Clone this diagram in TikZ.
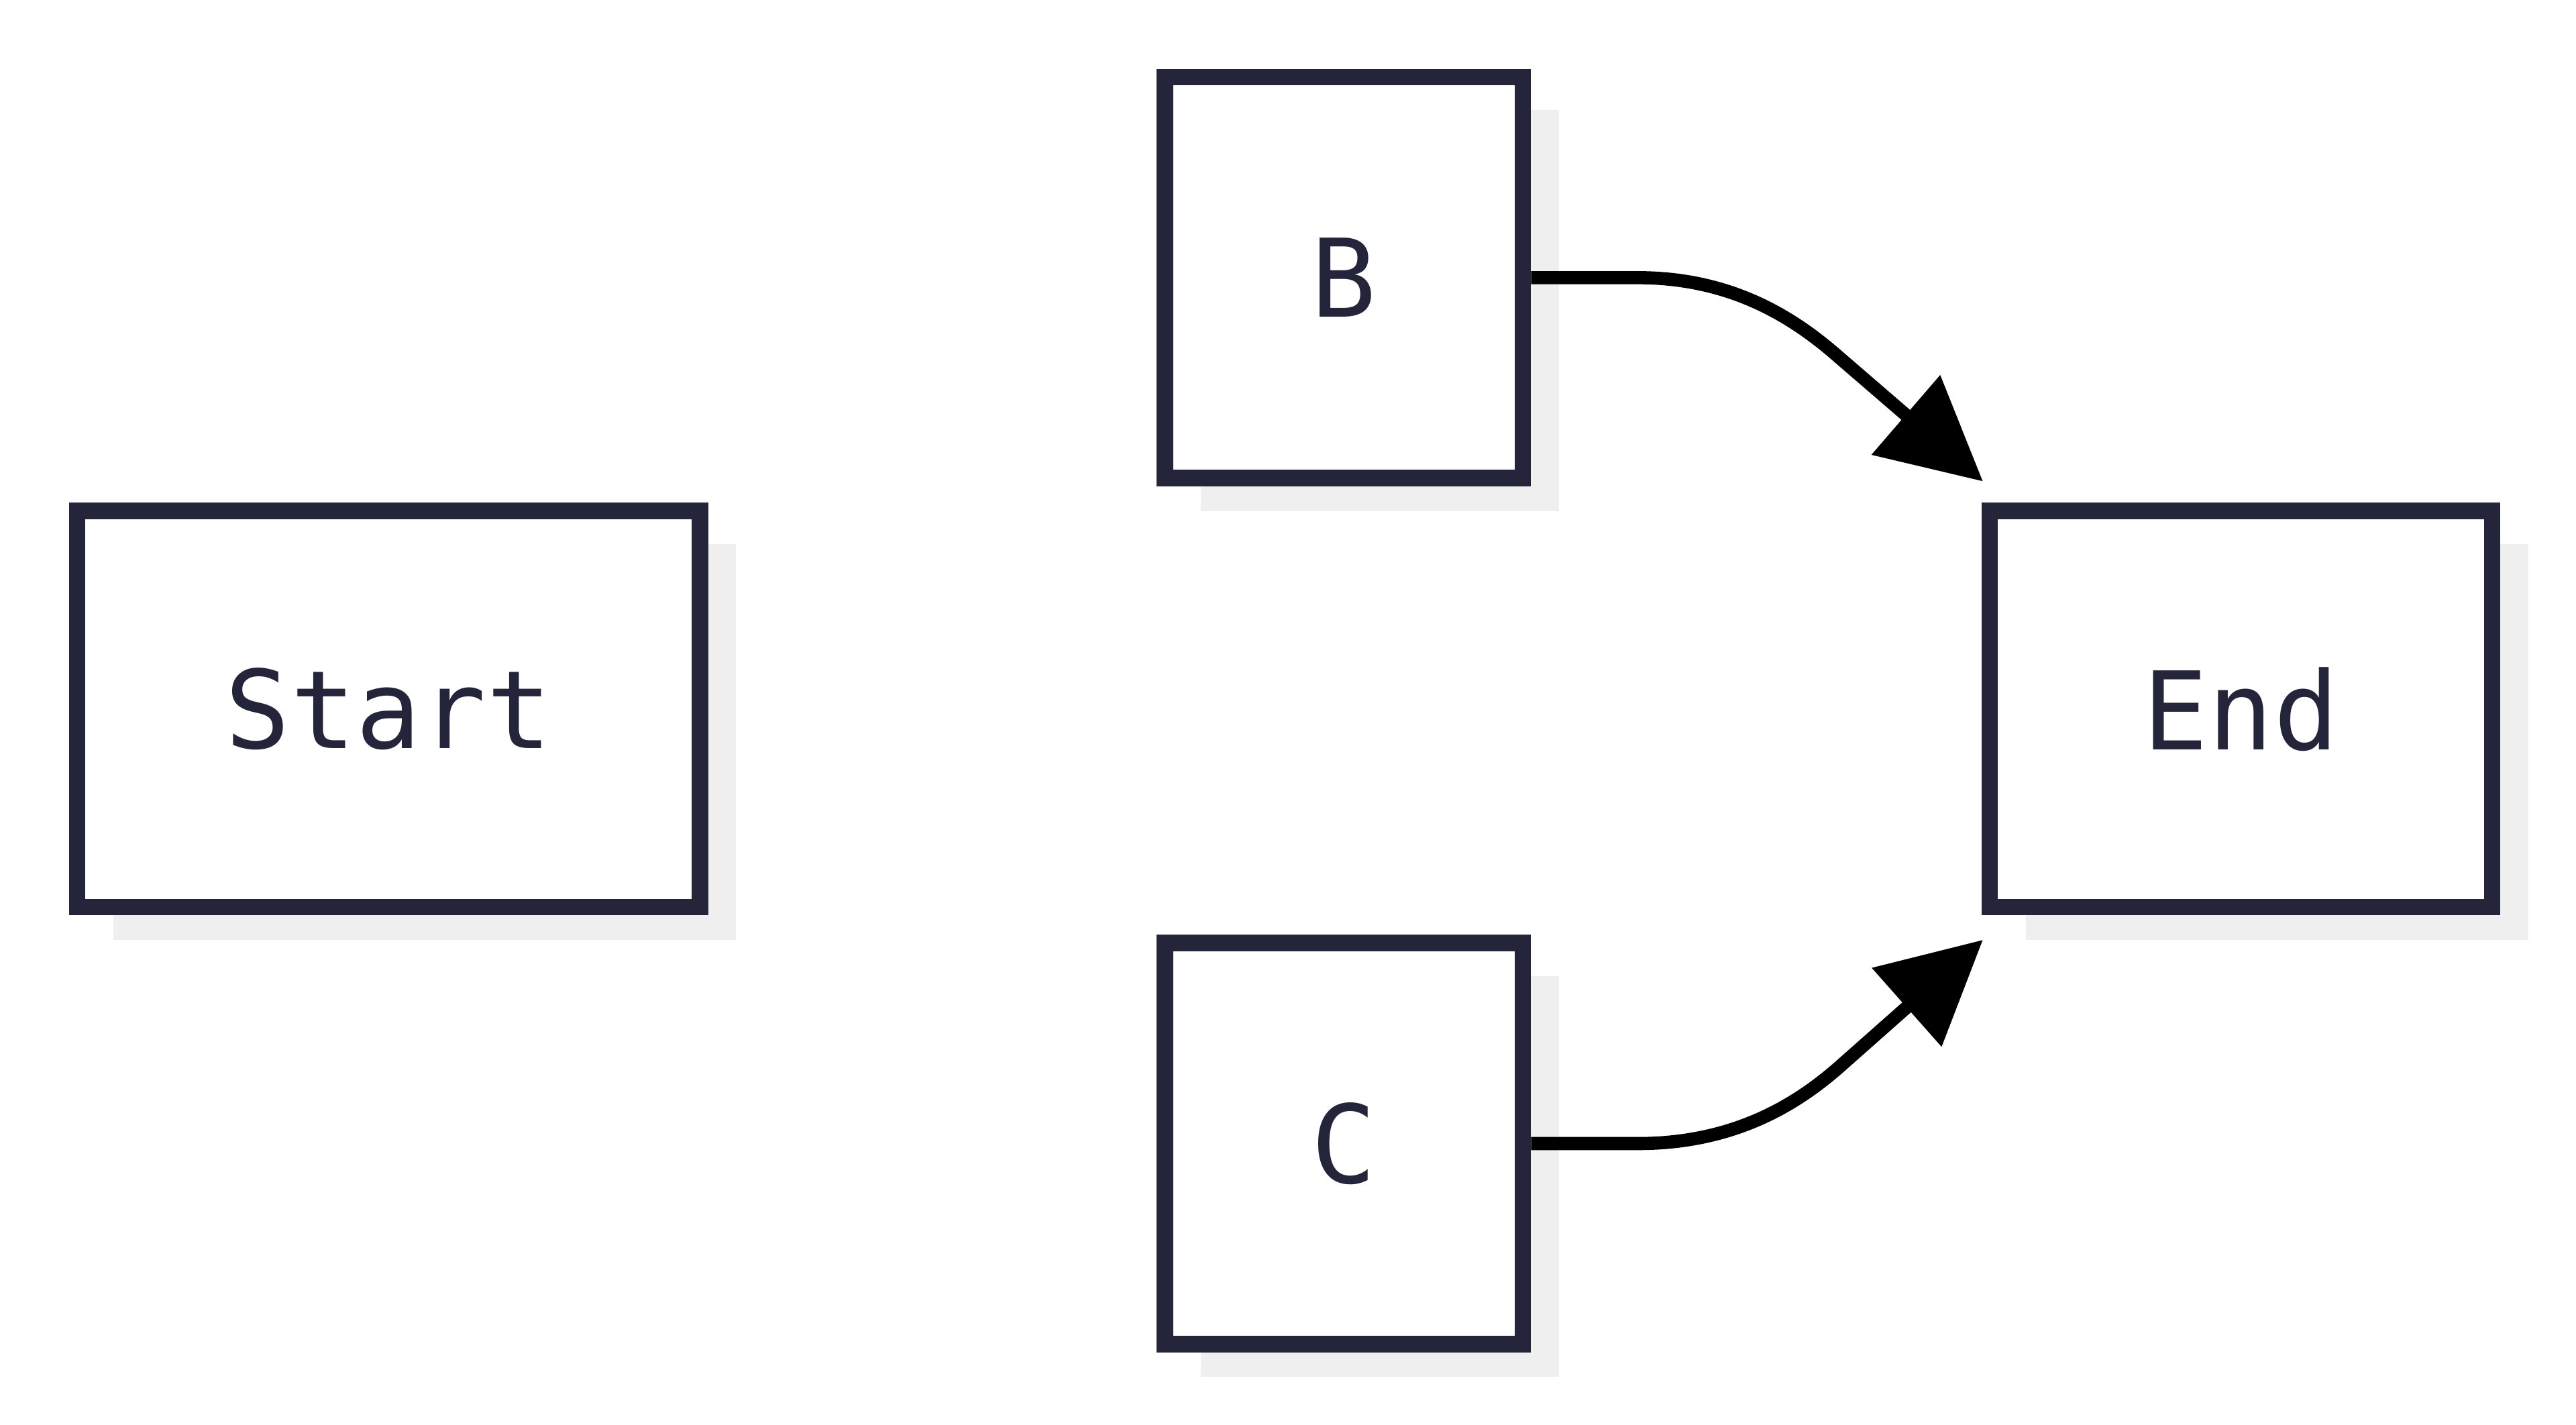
\documentclass[tikz,border=0pt]{standalone}
\usepackage{fontspec}
\setmonofont{DejaVu Sans Mono}
\usetikzlibrary{positioning,arrows.meta,shadows}
\definecolor{boxline}{HTML}{24243A}
\definecolor{shade}{HTML}{EFEFEF}
\tikzset{
  flowbox/.style={draw=boxline,line width=10pt,fill=white,inner sep=0pt,
    text=boxline,font=\ttfamily\fontsize{66}{76}\selectfont,
    drop shadow={shadow xshift=22pt,shadow yshift=-20pt,fill=shade,opacity=1}},
  flowarrow/.style={line width=8pt,-{Triangle[length=62pt,width=62pt]}}
}
\begin{document}
\begin{tikzpicture}[x=1pt,y=-1pt]
\useasboundingbox (0,0) rectangle (1568,867);
\node[flowbox,minimum width=379pt,minimum height=241pt] (start) at (236.5,431.5) {Start};
\node[flowbox,minimum width=218pt,minimum height=244pt] (b) at (818,169) {B};
\node[flowbox,minimum width=218pt,minimum height=244pt] (c) at (818,696) {C};
\node[flowbox,minimum width=306pt,minimum height=241pt] (end) at (1364,431.5) {End};
\coordinate (tipb) at (1207,293);
\coordinate (tipc) at (1207,572);
\draw[flowarrow] (b.east) -- ++(65,0) .. controls +(60,0) and +(-25,-22) .. (1120,218) -- (tipb);
\draw[flowarrow] (c.east) -- ++(65,0) .. controls +(60,0) and +(-25,22) .. (1120,649) -- (tipc);
\end{tikzpicture}
\end{document}
